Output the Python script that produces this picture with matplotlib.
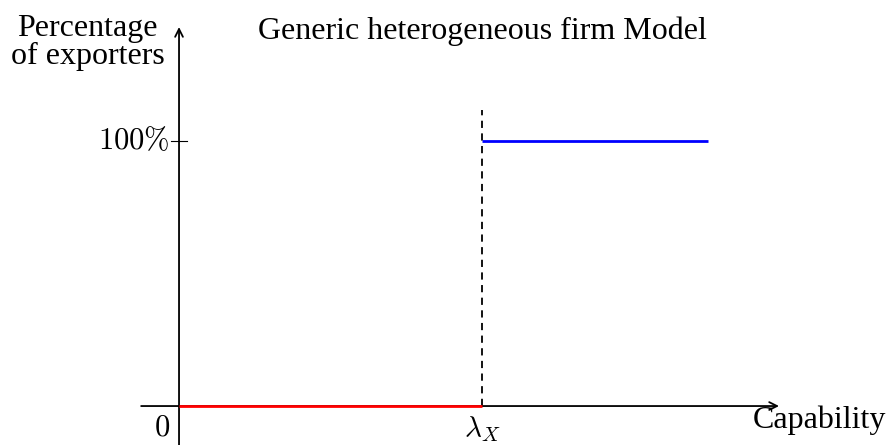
import matplotlib.pyplot as plt

plt.rcParams['mathtext.fontset'] = 'cm'
serif = 'Liberation Serif'

# data (unit scale: threshold lambda_X = 1, full export share = 1)
lam_x = 1.0
x_red = [0.0, lam_x]
y_red = [0.0, 0.0]
x_blue = [lam_x, 1.746]
y_blue = [1.0, 1.0]
dash_top = 1.117

fig = plt.figure(figsize=(8.89, 4.45), dpi=100)
ax = fig.add_axes([0, 0, 1, 1])
ax.set_xlim(-0.5908, 2.343)
ax.set_ylim(-0.147, 1.532)
ax.axis('off')

# axes with arrows
ax.annotate('', xy=(1.98, 0), xytext=(-0.125, 0),
            arrowprops=dict(arrowstyle='->', lw=1.3, color='black', mutation_scale=14,
                            shrinkA=0, shrinkB=0))
ax.annotate('', xy=(0, 1.43), xytext=(0, -0.147),
            arrowprops=dict(arrowstyle='->', lw=1.3, color='black', mutation_scale=14,
                            shrinkA=0, shrinkB=0))

# 100% tick
ax.plot([-0.025, 0.025], [1, 1], color='black', lw=0.8)

# curves
ax.plot(x_red, y_red, color='red', lw=2, solid_capstyle='butt', zorder=3)
ax.plot(x_blue, y_blue, color='blue', lw=2, solid_capstyle='butt', zorder=3)
ax.plot([lam_x, lam_x], [0, dash_top], color='black', lw=1.3, linestyle=(0, (4, 3)))

# labels
ax.text(-0.03, 1.0, r'$\mathrm{100\%}$', fontsize=22, ha='right', va='center')
ax.text(-0.03, -0.08, r'$0$', fontsize=22, ha='right', va='center')
ax.text(lam_x, -0.085, r'$\lambda_X$', fontsize=21, ha='center', va='center')
ax.text(1.893, -0.052, 'Capability', fontsize=23, ha='left', va='center', family=serif)
ax.text(-0.302, 1.37, 'Percentage\nof exporters', fontsize=23, ha='center', va='center',
        family=serif, linespacing=0.95)
ax.text(lam_x, 1.415, 'Generic heterogeneous firm Model', fontsize=23, ha='center',
        va='center', family=serif)

fig.savefig('out.png', dpi=100)
